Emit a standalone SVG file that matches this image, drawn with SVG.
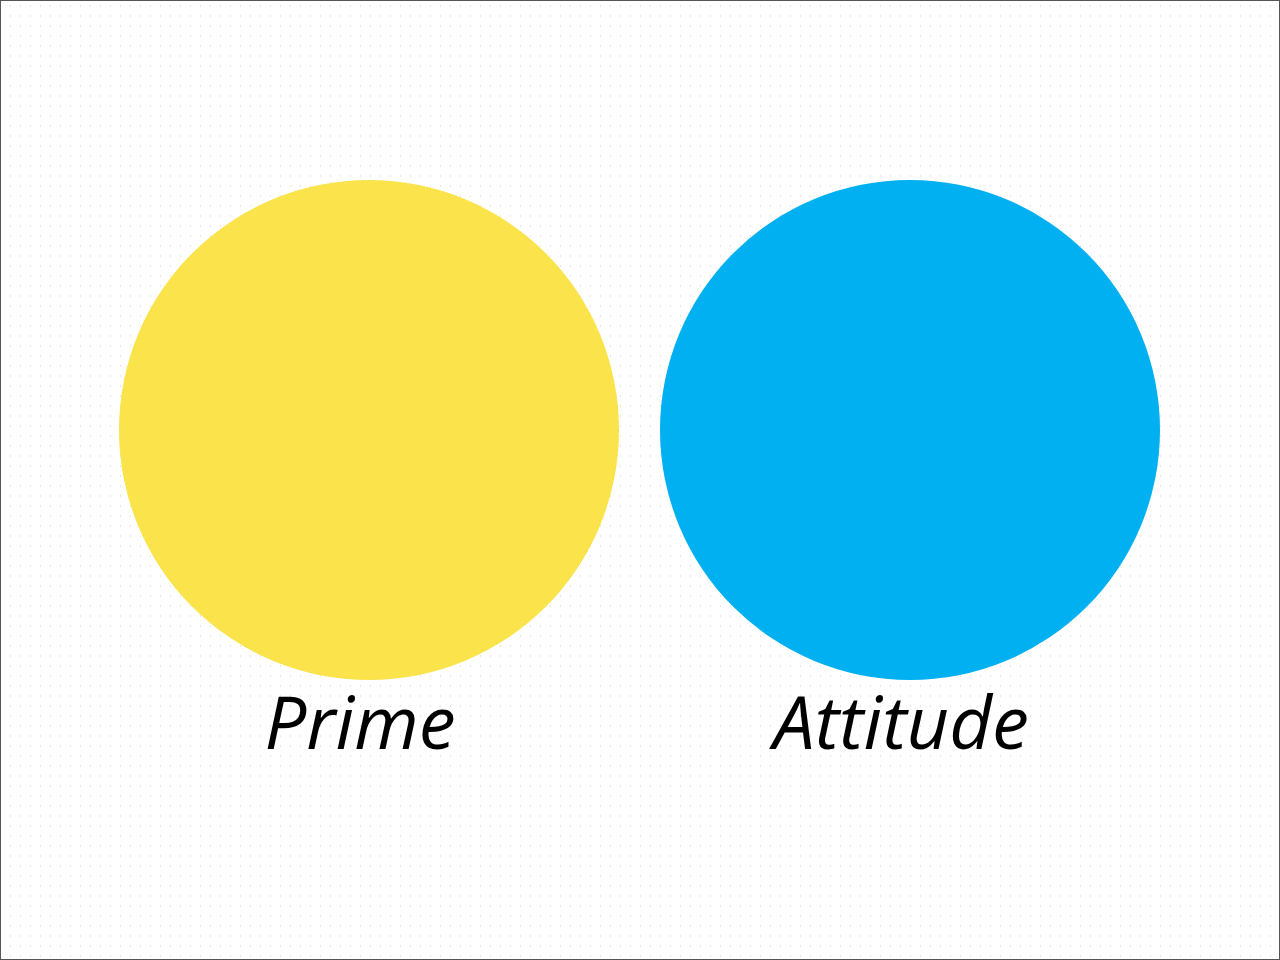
<svg xmlns="http://www.w3.org/2000/svg" width="1280" height="960" viewBox="0 0 1280 960">
<defs>
<pattern id="dots" x="1" y="1" width="10" height="10" patternUnits="userSpaceOnUse">
<rect x="0" y="0" width="10" height="10" fill="#ffffff"/>
<rect x="9" y="4" width="2" height="2" fill="#e6e6e6"/>
</pattern>
<style>
.lbl{font-family:"Open Sans","Noto Sans","DejaVu Sans",sans-serif;font-style:italic;font-size:74px;fill:#000;text-anchor:middle}
</style>
</defs>
<rect x="0" y="0" width="1280" height="960" fill="url(#dots)"/>
<rect x="0.5" y="0.5" width="1279" height="959" fill="none" stroke="#555" stroke-width="1"/>
<g id="prime">
<circle cx="369" cy="430" r="250" fill="#FBE34B"/>
<text class="lbl" x="360" y="749">Prime</text>
</g>
<g id="attitude">
<circle cx="910" cy="430" r="250" fill="#00B0F0"/>
<text class="lbl" x="901" y="749">Attitude</text>
</g>
<g id="connectors"></g>
</svg>
